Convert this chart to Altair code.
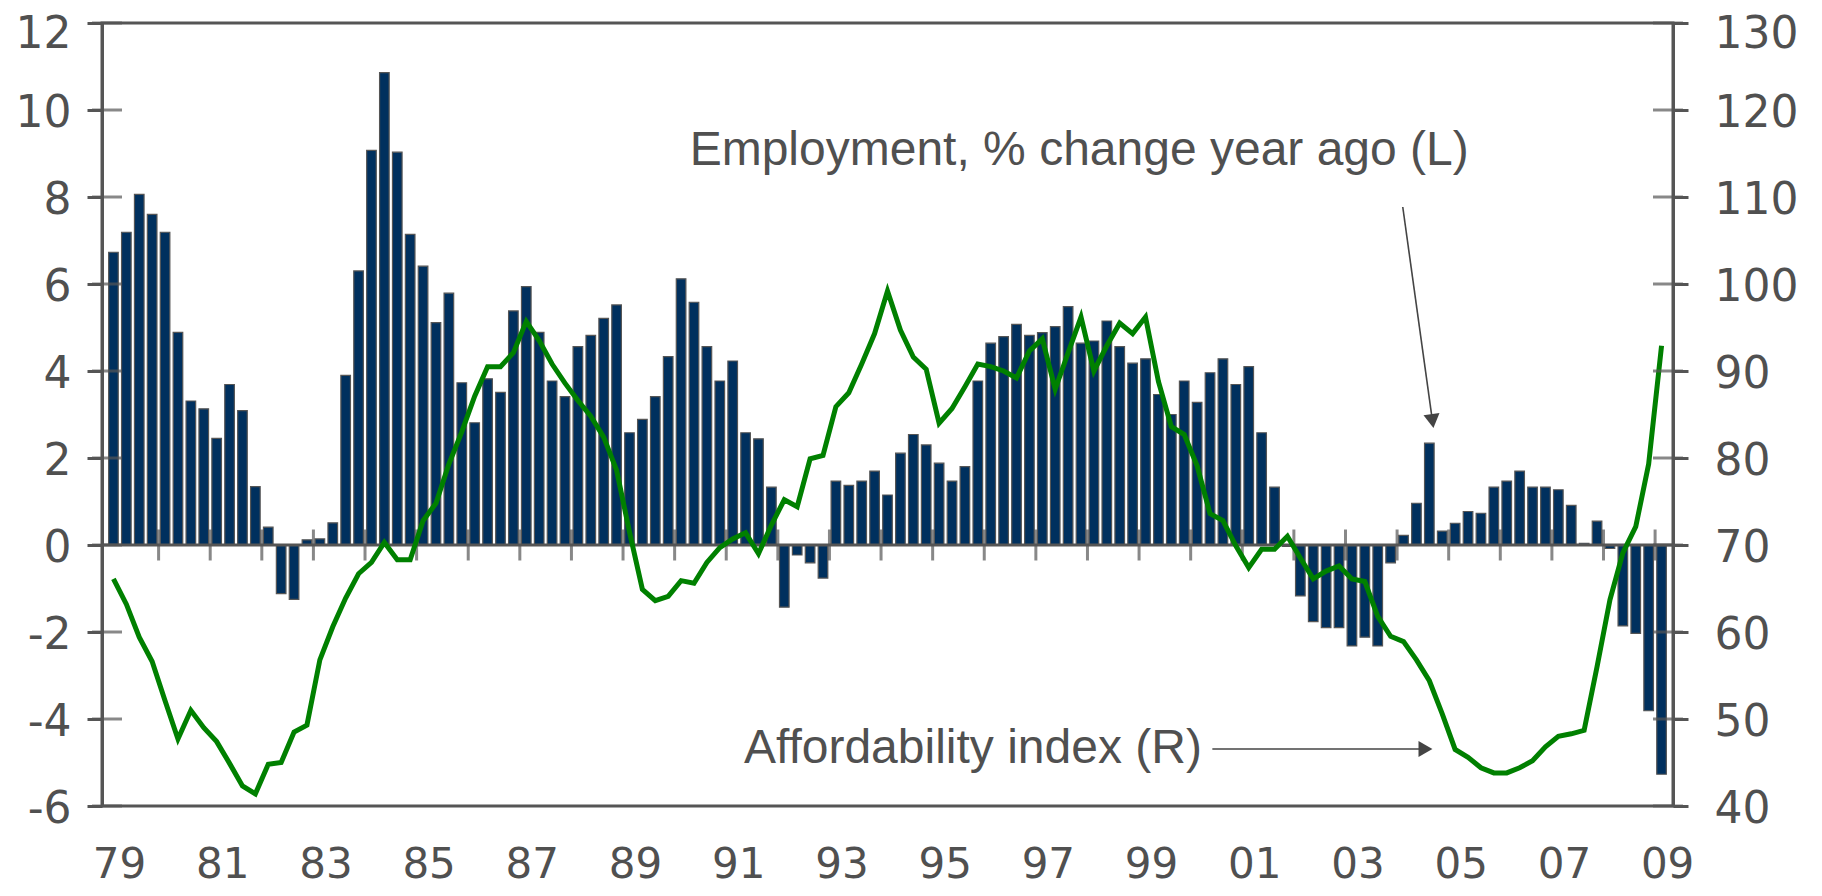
import altair as alt
import pandas as pd

# ---------------- data (quarterly, 1979Q1 .. 2009Q1) ----------------
employment = [
    6.73, 7.19, 8.06, 7.60,   # 1979
    7.19, 4.89, 3.31, 3.13,   # 1980
    2.45, 3.69, 3.09, 1.34,   # 1981
    0.41, -1.12, -1.25, 0.12, # 1982
    0.14, 0.51, 3.90, 6.30,   # 1983
    9.07, 10.86, 9.03, 7.14,  # 1984
    6.41, 5.11, 5.79, 3.73,   # 1985
    2.81, 3.82, 3.51, 5.38,   # 1986
    5.94, 4.89, 3.77, 3.41,   # 1987
    4.56, 4.82, 5.21, 5.52,   # 1988
    2.58, 2.89, 3.41, 4.33,   # 1989
    6.12, 5.58, 4.56, 3.77,   # 1990
    4.23, 2.58, 2.44, 1.33,   # 1991
    -1.43, -0.23, -0.41, -0.76,  # 1992
    1.47, 1.37, 1.47, 1.70,   # 1993
    1.15, 2.11, 2.54, 2.30,   # 1994
    1.88, 1.47, 1.80, 3.77,   # 1995
    4.64, 4.79, 5.07, 4.82,   # 1996
    4.88, 5.02, 5.48, 4.64,   # 1997
    4.69, 5.15, 4.56, 4.18,   # 1998
    4.28, 3.46, 3.00, 3.77,   # 1999
    3.28, 3.96, 4.28, 3.69,   # 2000
    4.10, 2.58, 1.33, -0.03,  # 2001
    -1.17, -1.76, -1.90, -1.90,  # 2002
    -2.32, -2.12, -2.32, -0.41,  # 2003
    0.22, 0.96, 2.34, 0.32,   # 2004
    0.50, 0.77, 0.73, 1.33,   # 2005
    1.47, 1.70, 1.33, 1.33,   # 2006
    1.27, 0.91, 0.04, 0.55,   # 2007
    -0.08, -1.86, -2.03, -3.81,  # 2008
    -5.27,                    # 2009
]

affordability = [
    66.1, 63.2, 59.4, 56.6,   # 1979
    52.1, 47.7, 51.0, 49.0,   # 1980
    47.4, 44.9, 42.3, 41.4,   # 1981
    44.8, 45.0, 48.5, 49.3,   # 1982
    56.8, 60.6, 63.9, 66.7,   # 1983
    68.0, 70.3, 68.3, 68.3,   # 1984
    72.8, 74.8, 79.3, 83.0,   # 1985
    87.1, 90.5, 90.5, 92.1,   # 1986
    95.7, 93.5, 90.8, 88.6,   # 1987
    86.6, 84.8, 82.4, 78.6,   # 1988
    71.5, 64.9, 63.6, 64.1,   # 1989
    65.9, 65.6, 68.0, 69.7,   # 1990
    70.7, 71.4, 69.0, 72.3,   # 1991
    75.2, 74.4, 79.9, 80.3,   # 1992
    85.9, 87.5, 90.8, 94.3,   # 1993
    99.2, 94.7, 91.6, 90.2,   # 1994
    84.0, 85.7, 88.2, 90.8,   # 1995
    90.5, 90.0, 89.2, 92.3,   # 1996
    93.7, 87.9, 92.1, 96.2,   # 1997
    90.0, 92.9, 95.5, 94.3,   # 1998
    96.2, 88.8, 83.6, 82.7,   # 1999
    79.1, 73.6, 72.8, 69.9,   # 2000
    67.4, 69.5, 69.5, 71.0,   # 2001
    68.5, 66.1, 67.0, 67.6,   # 2002
    66.1, 65.8, 61.8, 59.5,   # 2003
    58.9, 56.8, 54.4, 50.6,   # 2004
    46.5, 45.6, 44.4, 43.8,   # 2005
    43.8, 44.4, 45.2, 46.8,   # 2006
    48.0, 48.3, 48.7, 56.0,   # 2007
    63.7, 69.1, 72.1, 79.3,   # 2008
    92.9,                     # 2009
]

start_year = 1979
quarter_time = [start_year + (i + 0.5) / 4 for i in range(len(employment))]

left_tick_values = [-6, -4, -2, 0, 2, 4, 6, 8, 10, 12]
right_tick_values = [40, 50, 60, 70, 80, 90, 100, 110, 120, 130]
label_years = [1979, 1981, 1983, 1985, 1987, 1989, 1991, 1993, 1995,
               1997, 1999, 2001, 2003, 2005, 2007, 2009]
year_tick_values = list(range(1980, 2010))

ann_text = ["Employment, % change year ago (L)", "Affordability index (R)"]
ann_x = [1997.84, 1995.78]
ann_y = [9.06, -4.69]

arrow_x = [2004.11, 2000.42]
arrow_y = [7.77, -4.69]
arrow_x2 = [2004.686, 2004.55]
arrow_y2 = [2.85, -4.69]
head_shape = ["triangle-down", "triangle-right"]
head_angle = [352, 0]

X_DOMAIN = [1979, 2009.25]
L_DOMAIN = [-6, 12]
R_DOMAIN = [40, 130]

AXIS_COLOR = "#555555"
TEXT_COLOR = "#505050"
BAR_COLOR = "#00305e"
LINE_COLOR = "#008000"
TICK_FONT = "DejaVu Sans"
TICK_SIZE = 44
ANN_FONT = "Liberation Sans"

series = pd.DataFrame({"t": quarter_time, "emp": employment, "aff": affordability})
left_ticks_df = pd.DataFrame({"v": left_tick_values})
right_ticks_df = pd.DataFrame({"v": right_tick_values})
year_ticks_df = pd.DataFrame({"yr": year_tick_values})
ann_df = pd.DataFrame({"x": ann_x, "y": ann_y, "label": ann_text})
arrow_df = pd.DataFrame({"x": arrow_x, "y": arrow_y, "x2": arrow_x2, "y2": arrow_y2,
                         "shape": head_shape, "angle": head_angle})

xs = alt.Scale(domain=X_DOMAIN, nice=False, zero=False)
ls = alt.Scale(domain=L_DOMAIN, nice=False, zero=False)
rs = alt.Scale(domain=R_DOMAIN, nice=False, zero=False)

x_axis = alt.Axis(values=label_years, labelExpr="substring(toString(datum.value), 2)",
                  orient="bottom", ticks=False, domain=False, grid=False, title=None,
                  labelFont=TICK_FONT, labelFontSize=42, labelColor=TEXT_COLOR,
                  labelBaseline="alphabetic", labelPadding=71, labelOffset=12,
                  labelFlush=False, labelOverlap=False, labelBound=False)

left_axis = alt.Axis(values=left_tick_values, orient="left", grid=False, title=None,
                     labelExpr="toString(datum.value)",
                     tickSize=15, tickWidth=3, tickColor=AXIS_COLOR,
                     domain=True, domainColor=AXIS_COLOR, domainWidth=3,
                     labelFont=TICK_FONT, labelFontSize=TICK_SIZE, labelColor=TEXT_COLOR,
                     labelPadding=16,
                     labelOffset={"condition": {"test": f"datum.value == {L_DOMAIN[1]}", "value": 11},
                                  "value": 3},
                     labelOverlap=False, labelBound=False, labelFlush=False)

right_axis = alt.Axis(values=right_tick_values, orient="right", grid=False, title=None,
                      labelExpr="toString(datum.value)",
                      tickSize=15, tickWidth=3, tickColor=AXIS_COLOR,
                      domain=True, domainColor=AXIS_COLOR, domainWidth=3,
                      labelFont=TICK_FONT, labelFontSize=TICK_SIZE, labelColor=TEXT_COLOR,
                      labelPadding=26,
                      labelOffset={"condition": {"test": f"datum.value == {R_DOMAIN[1]}", "value": 11},
                                   "value": 3},
                      labelOverlap=False, labelBound=False,
                      labelFlush=False, labelAlign="left")


def X(field):
    return alt.X(field, scale=xs, axis=x_axis)


def YL(field):
    return alt.Y(field, scale=ls, axis=left_axis)


def YR(field):
    return alt.Y(field, scale=rs, axis=right_axis)


bars = alt.Chart(series).mark_bar(
    size=9.6, color=BAR_COLOR, stroke=AXIS_COLOR, strokeWidth=1.2
).encode(
    x=X("t:Q"),
    y=YL("emp:Q"),
    y2=alt.datum(0),
)

zero_rule = alt.Chart(series).mark_rule(color=AXIS_COLOR, strokeWidth=3).transform_filter(
    "datum.t < 1979.2"
).transform_calculate(z="0").encode(
    y=YL("z:Q")
)

year_ticks = alt.Chart(year_ticks_df).mark_tick(
    orient="vertical", size=31, thickness=3, color=AXIS_COLOR
).transform_calculate(z="0").encode(
    x=X("yr:Q"),
    y=YL("z:Q"),
)

left_inner = alt.Chart(left_ticks_df).mark_tick(
    orient="horizontal", size=30, thickness=3, color=AXIS_COLOR
).transform_calculate(x0=str(X_DOMAIN[0])).encode(
    x=X("x0:Q"),
    y=YL("v:Q"),
)

ann_text_layer = alt.Chart(ann_df).mark_text(
    font=ANN_FONT, fontSize=48, color=TEXT_COLOR, align="center", baseline="middle"
).encode(
    x=X("x:Q"),
    y=YL("y:Q"),
    text="label:N",
)

arrow_shaft = alt.Chart(arrow_df).mark_rule(color="#444444", strokeWidth=1.6).encode(
    x=X("x:Q"),
    y=YL("y:Q"),
    x2="x2:Q",
    y2="y2:Q",
)

arrow_head = alt.Chart(arrow_df).mark_point(
    filled=True, size=260, color="#444444", opacity=1
).encode(
    x=X("x2:Q"),
    y=YL("y2:Q"),
    shape=alt.Shape("shape:N", scale=None, legend=None),
    angle=alt.Angle("angle:Q", scale=None),
)

left_group = alt.layer(bars, zero_rule, year_ticks, left_inner,
                       ann_text_layer, arrow_shaft, arrow_head)

line = alt.Chart(series).mark_line(
    color=LINE_COLOR, strokeWidth=5, strokeJoin="miter"
).encode(
    x=X("t:Q"),
    y=YR("aff:Q"),
)

right_inner = alt.Chart(right_ticks_df).mark_tick(
    orient="horizontal", size=30, thickness=3, color=AXIS_COLOR
).transform_calculate(x1=str(X_DOMAIN[1])).encode(
    x=X("x1:Q"),
    y=YR("v:Q"),
)

right_group = alt.layer(line, right_inner)

chart = alt.layer(left_group, right_group).resolve_scale(
    y="independent"
).properties(
    width=1571, height=783,
    autosize=alt.AutoSizeParams(type="none"),
    padding={"left": 94, "top": 15, "right": 140, "bottom": 81},
    background="white",
).configure_view(
    stroke=AXIS_COLOR, strokeWidth=3
)

chart.save("out.html", embed_options={"renderer": "svg", "actions": False})
